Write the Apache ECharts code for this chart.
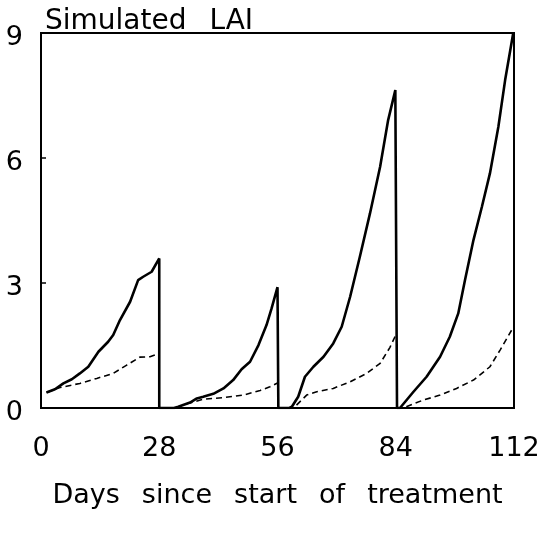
<!DOCTYPE html>
<html>
<head>
<meta charset="utf-8">
<script src="https://cdn.jsdelivr.net/npm/echarts@6/dist/echarts.min.js"></script>
<style>
  html, body { margin: 0; padding: 0; background: #fff; }
  #chart { width: 545px; height: 535px; }
</style>
</head>
<body>
<div id="chart"></div>
<script>
// ---- data ----
var xTicks = [0, 28, 56, 84, 112];
var yTicks = [0, 3, 6, 9];

// Solid line: simulated LAI (days, LAI); harvest drops to zero at each cut
var solidDays = [
  1.3, 3.3, 5.3, 7.3, 9.2, 11.2, 13.6, 15.9, 17.1, 18.7, 21.1, 23.0, 24.2, 26.2, 28.0, 28.0,
  31.5, 32.5, 35.3, 36.9, 38.4, 40.8, 43.2, 45.5, 47.5, 49.5, 51.5, 53.4, 54.6, 56.0, 56.2,
  58.8, 59.4, 60.9, 62.5, 64.5, 66.9, 69.2, 71.2, 73.2, 75.5, 77.9, 80.3, 82.2, 83.9, 84.3,
  85.0, 85.4, 88.2, 91.3, 94.5, 96.8, 98.8, 100.4, 102.4, 104.4, 106.3, 108.3, 109.9, 111.8
];
var solidLAI = [
  0.37, 0.45, 0.59, 0.69, 0.83, 0.99, 1.35, 1.59, 1.75, 2.11, 2.55, 3.07, 3.15, 3.27, 3.59, 0,
  0, 0.03, 0.13, 0.23, 0.27, 0.34, 0.47, 0.67, 0.93, 1.11, 1.51, 1.99, 2.39, 2.90, 0,
  0, 0.03, 0.27, 0.75, 0.99, 1.23, 1.55, 1.95, 2.67, 3.63, 4.67, 5.79, 6.91, 7.63, 0,
  0, 0.03, 0.39, 0.75, 1.23, 1.71, 2.27, 3.07, 4.03, 4.83, 5.63, 6.75, 7.87, 8.99
];

// Dashed line: second simulated LAI series (null = gap between cycles)
var dashedDays = [
  1.3, 4.5, 9.2, 13.2, 17.1, 20.3, 23.4, 25.8, 28.0, null,
  34.5, 38.4, 43.2, 47.9, 51.9, 54.2, 56.0, null,
  60.5, 62.9, 65.3, 69.2, 73.2, 77.1, 80.3, 82.6, 84.0, null,
  86.5, 90.5, 94.5, 98.4, 102.4, 106.3, 108.7, 111.8
];
var dashedLAI = [
  0.37, 0.49, 0.59, 0.71, 0.83, 1.03, 1.22, 1.23, 1.31, null,
  0.10, 0.21, 0.25, 0.31, 0.42, 0.51, 0.60, null,
  0.07, 0.31, 0.39, 0.47, 0.63, 0.83, 1.07, 1.45, 1.75, null,
  0.03, 0.19, 0.31, 0.47, 0.67, 0.99, 1.39, 1.93
];

function pairs(xs, ys) {
  return xs.map(function (x, i) { return (x === null || ys[i] === null) ? '-' : [x, ys[i]]; });
}

var FONT = '"DejaVu Sans", "Liberation Sans", sans-serif';
var chart = echarts.init(document.getElementById('chart'), null, { renderer: 'canvas' });

chart.setOption({
  backgroundColor: '#ffffff',
  animation: false,
  title: {
    text: 'Simulated\u2002 LAI',
    left: 40, top: 3,
    textStyle: { fontFamily: FONT, fontSize: 28, fontWeight: 'normal', color: '#000' }
  },
  grid: {
    left: 41, right: 31, top: 33, bottom: 127,
    show: true, borderColor: '#000', borderWidth: 2, backgroundColor: 'transparent'
  },
  xAxis: {
    type: 'value', min: xTicks[0], max: xTicks[xTicks.length - 1], interval: 28,
    name: 'Days\u2002 since\u2002 start\u2002 of\u2002 treatment',
    nameLocation: 'middle', nameGap: 74,
    nameTextStyle: { fontFamily: FONT, fontSize: 27, color: '#000' },
    axisLine: { show: true, lineStyle: { color: '#000', width: 2 } },
    axisTick: { show: false },
    splitLine: { show: false },
    axisLabel: { fontFamily: FONT, fontSize: 27, color: '#000', margin: 27,
      formatter: function (v) { return xTicks.indexOf(v) >= 0 ? String(v) : ''; } }
  },
  yAxis: {
    type: 'value', min: yTicks[0], max: yTicks[yTicks.length - 1], interval: 3,
    axisLine: { show: true, lineStyle: { color: '#000', width: 2 } },
    axisTick: { show: true, inside: true, length: 5, lineStyle: { color: '#000', width: 1.5 } },
    splitLine: { show: false },
    axisLabel: { color: '#000', margin: 18,
      formatter: function (v) { return yTicks.indexOf(v) >= 0 ? '{n|' + v + '}' : ''; },
      rich: { n: { fontFamily: FONT, fontSize: 27, color: '#000', padding: [9, 0, 0, 0] } } }
  },
  series: [
    {
      type: 'line', name: 'solid', data: pairs(solidDays, solidLAI),
      showSymbol: false, symbol: 'none', smooth: false, connectNulls: false,
      lineStyle: { color: '#000', width: 2.6 }, z: 3
    },
    {
      type: 'line', name: 'dashed', data: pairs(dashedDays, dashedLAI),
      showSymbol: false, symbol: 'none', smooth: false, connectNulls: false,
      lineStyle: { color: '#000', width: 1.6, type: [6, 4] }, z: 2
    }
  ]
});
</script>
</body>
</html>
